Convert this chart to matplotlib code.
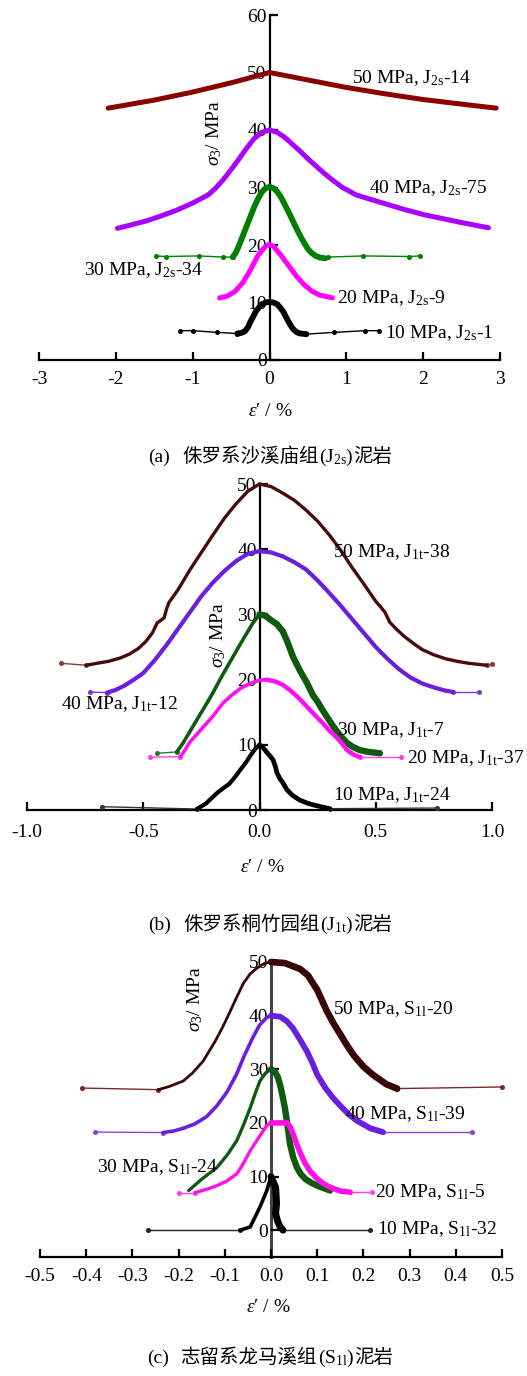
import numpy as np
import matplotlib
matplotlib.use("Agg")
import matplotlib.pyplot as plt
from matplotlib.offsetbox import TextArea, HPacker, AnnotationBbox, DrawingArea

plt.rcParams['font.family'] = ['Liberation Serif']
plt.rcParams['mathtext.fontset'] = 'custom'
plt.rcParams['mathtext.rm'] = 'Liberation Serif'
plt.rcParams['mathtext.it'] = 'Liberation Serif:italic'
plt.rcParams['mathtext.bf'] = 'Liberation Serif:bold'
plt.rcParams['axes.unicode_minus'] = False

# ---------------- Panel (a): J2s ----------------
A50_x = [-2.1, -1.5, -1.0, -0.5, 0.0, 0.5, 1.0, 1.5, 2.0, 2.5, 2.95]
A50_y = [43.8, 45.2, 46.6, 48.2, 50.0, 48.7, 47.4, 46.3, 45.3, 44.5, 43.8]
A40_x = [-1.98, -1.8, -1.6, -1.4, -1.2, -1.0, -0.8, -0.7, -0.6, -0.5, -0.4, -0.3, -0.2, -0.1, 0.0,
         0.1, 0.2, 0.3, 0.4, 0.5, 0.6, 0.7, 0.8, 0.95, 1.13, 1.3, 1.5, 1.75, 2.0, 2.25, 2.5, 2.85]
A40_y = [22.9, 23.5, 24.2, 25.1, 26.1, 27.3, 28.7, 29.9, 31.4, 33.1, 34.9, 36.8, 38.5, 39.6, 40.0,
         39.6, 38.7, 37.5, 36.3, 35.0, 33.8, 32.6, 31.5, 30.0, 28.7, 28.0, 27.2, 26.2, 25.3, 24.6, 23.9, 23.0]
A30_lx = [-1.48, -1.35, -0.92, -0.6, -0.48]
A30_ly = [18.1, 18.0, 18.1, 17.9, 17.9]
A30_x = [-0.48, -0.44, -0.4, -0.35, -0.3, -0.25, -0.2, -0.15, -0.1, -0.05, 0.0, 0.05, 0.1, 0.15,
         0.2, 0.25, 0.3, 0.35, 0.4, 0.45, 0.5, 0.55, 0.6, 0.66, 0.72]
A30_y = [17.9, 18.6, 19.8, 21.5, 23.2, 24.9, 26.6, 28.0, 29.2, 29.9, 30.1, 29.9, 29.3, 28.3,
         27.0, 25.7, 24.3, 22.9, 21.6, 20.4, 19.3, 18.6, 18.1, 17.8, 17.7]
A30_rx = [0.72, 0.76, 1.22, 1.82, 1.96]
A30_ry = [17.7, 17.9, 18.1, 18.0, 18.1]
A20_x = [-0.65, -0.55, -0.45, -0.35, -0.25, -0.15, -0.05, 0.0, 0.05, 0.15, 0.25, 0.35, 0.45, 0.55, 0.65, 0.75, 0.82]
A20_y = [10.8, 11.1, 11.9, 13.4, 15.6, 18.2, 19.8, 20.1, 19.8, 18.2, 16.4, 14.6, 13.1, 12.0, 11.3, 11.0, 10.8]
A10_lx = [-1.16, -1.0, -0.68, -0.42]
A10_ly = [5.1, 5.1, 4.8, 4.6]
A10_x = [-0.42, -0.37, -0.32, -0.28, -0.25, -0.21, -0.18, -0.14, -0.1, -0.05, 0.0,
         0.05, 0.1, 0.14, 0.18, 0.21, 0.25, 0.29, 0.32, 0.36, 0.4, 0.48]
A10_y = [4.6, 4.7, 5.0, 5.7, 6.6, 7.6, 8.4, 9.1, 9.7, 10.0, 10.1,
         10.0, 9.7, 9.1, 8.4, 7.6, 6.6, 5.7, 5.2, 4.8, 4.6, 4.5]
A10_rx = [0.48, 0.84, 1.24, 1.43]
A10_ry = [4.5, 4.8, 5.1, 5.1]
A_labels = ['50 MPa, J$_{\\mathrm{2s}}$-14', '40 MPa, J$_{\\mathrm{2s}}$-75',
            '30 MPa, J$_{\\mathrm{2s}}$-34', '20 MPa, J$_{\\mathrm{2s}}$-9',
            '10 MPa, J$_{\\mathrm{2s}}$-1']
A_xticks = [-3, -2, -1, 0, 1, 2, 3]
A_yticks = [0, 10, 20, 30, 40, 50, 60]

# ---------------- Panel (b): J1t ----------------
B50_lx = [-0.854, -0.746]
B50_ly = [22.5, 22.2]
B50_x = [-0.746, -0.7, -0.65, -0.6, -0.56, -0.52, -0.49, -0.46, -0.44, -0.42, -0.41, -0.4, -0.39,
         -0.35, -0.3, -0.25, -0.2, -0.15, -0.1, -0.05, 0.0,
         0.05, 0.1, 0.15, 0.2, 0.25, 0.3, 0.35, 0.4, 0.45, 0.5, 0.52, 0.54, 0.56, 0.59, 0.62,
         0.66, 0.7, 0.75, 0.8, 0.85, 0.9, 0.977]
B50_y = [22.2, 22.5, 22.8, 23.3, 23.9, 24.8, 25.8, 27.2, 28.7, 29.2, 29.5, 30.8, 31.8,
         33.8, 36.8, 39.5, 42.2, 44.8, 47.0, 48.9, 50.0,
         49.6, 48.6, 47.5, 46.0, 44.3, 42.2, 39.8, 37.1, 34.6, 32.0, 31.2, 30.3, 28.8, 27.7, 26.7,
         25.6, 24.6, 23.8, 23.2, 22.8, 22.5, 22.2]
B50_rx = [0.977, 1.0]
B50_ry = [22.2, 22.4]
B40_lx = [-0.73, -0.656]
B40_ly = [18.1, 18.0]
B40_x = [-0.656, -0.62, -0.58, -0.54, -0.5, -0.45, -0.4, -0.35, -0.3, -0.25, -0.2, -0.15, -0.1, -0.05, 0.0,
         0.05, 0.1, 0.15, 0.2, 0.25, 0.3, 0.35, 0.4, 0.45, 0.5, 0.55, 0.6, 0.65, 0.7, 0.75, 0.8, 0.834]
B40_y = [18.0, 18.4, 19.1, 20.0, 21.0, 23.0, 25.3, 27.8, 30.3, 32.8, 34.9, 36.7, 38.2, 39.3, 39.7,
         39.5, 38.9, 38.0, 36.9, 35.2, 33.3, 31.3, 29.2, 27.1, 25.0, 23.2, 21.6, 20.3, 19.4, 18.8, 18.3, 18.1]
B40_rx = [0.834, 0.944]
B40_ry = [18.1, 18.1]
B30_lx = [-0.44, -0.356]
B30_ly = [8.7, 8.9]
B30_x = [-0.356, -0.33, -0.3, -0.26, -0.226, -0.2, -0.17, -0.14, -0.114, -0.085, -0.06, -0.03, 0.0,
         0.025, 0.05, 0.075, 0.1, 0.12, 0.144, 0.175, 0.204, 0.23, 0.25, 0.27, 0.29, 0.31, 0.33,
         0.355, 0.376, 0.4, 0.43, 0.47, 0.518]
B30_y = [8.9, 10.2, 12.0, 14.4, 16.4, 18.0, 20.0, 21.9, 23.5, 25.3, 26.8, 28.6, 30.0,
         29.8, 29.1, 28.5, 27.4, 25.8, 23.5, 21.3, 19.5, 17.6, 16.6, 15.4, 14.3, 13.2, 12.2,
         11.1, 10.3, 9.7, 9.2, 8.9, 8.7]
B20_lx = [-0.47, -0.34]
B20_ly = [8.1, 8.2]
B20_x = [-0.34, -0.32, -0.3, -0.25, -0.2, -0.157, -0.12, -0.08, -0.04, 0.0, 0.03,
         0.07, 0.1, 0.131, 0.165, 0.2, 0.24, 0.273, 0.3, 0.33, 0.355, 0.376, 0.405, 0.432]
B20_y = [8.2, 9.2, 10.4, 12.4, 14.4, 16.4, 17.6, 18.7, 19.4, 19.9, 20.0,
         19.7, 19.2, 18.4, 17.3, 16.0, 14.5, 13.3, 12.2, 11.2, 10.2, 9.2, 8.5, 8.1]
B20_rx = [0.432, 0.61]
B20_ry = [8.1, 8.1]
B10_lx = [-0.678, -0.27]
B10_ly = [0.5, 0.15]
B10_x = [-0.27, -0.23, -0.183, -0.15, -0.13, -0.1, -0.084, -0.06, -0.04, -0.02, 0.0,
         0.015, 0.03, 0.045, 0.058, 0.068, 0.075, 0.088, 0.1, 0.118, 0.14, 0.174, 0.21, 0.24, 0.303]
B10_y = [0.15, 1.0, 2.6, 3.5, 4.0, 5.3, 6.1, 7.2, 8.3, 9.3, 10.0,
         9.6, 8.9, 8.3, 7.7, 6.7, 5.7, 4.8, 4.2, 3.1, 2.3, 1.5, 1.0, 0.7, 0.2]
B10_rx = [0.303, 0.763]
B10_ry = [0.2, 0.3]
B_labels = ['50 MPa, J$_{\\mathrm{1t}}$-38', '40 MPa, J$_{\\mathrm{1t}}$-12',
            '30 MPa, J$_{\\mathrm{1t}}$-7', '20 MPa, J$_{\\mathrm{1t}}$-37',
            '10 MPa, J$_{\\mathrm{1t}}$-24']
B_xticks = [-1.0, -0.5, 0.0, 0.5, 1.0]
B_yticks = [0, 10, 20, 30, 40, 50]

# ---------------- Panel (c): S1l ----------------
C50_lx = [-0.41, -0.244]
C50_ly = [26.5, 26.2]
C50_x = [-0.244, -0.22, -0.19, -0.17, -0.147, -0.121, -0.105, -0.09, -0.075, -0.06, -0.045, -0.03, -0.015, 0.0,
         0.03, 0.063, 0.08, 0.1, 0.12, 0.135, 0.15, 0.165, 0.18, 0.2, 0.22, 0.25, 0.273]
C50_y = [26.2, 26.8, 27.8, 29.3, 31.5, 35.2, 37.8, 40.5, 43.3, 46.0, 47.8, 48.9, 49.7, 50.0,
         49.8, 48.7, 47.5, 44.8, 41.0, 38.6, 36.5, 34.4, 32.5, 30.5, 29.0, 27.2, 26.4]
C50_rx = [0.273, 0.5]
C50_ry = [26.4, 26.7]
C40_lx = [-0.381, -0.234]
C40_ly = [18.3, 18.2]
C40_x = [-0.234, -0.21, -0.19, -0.165, -0.139, -0.117, -0.095, -0.075, -0.058, -0.04, -0.025, -0.01, 0.0,
         0.02, 0.035, 0.048, 0.063, 0.078, 0.09, 0.1, 0.117, 0.134, 0.15, 0.168, 0.186, 0.215, 0.242]
C40_y = [18.2, 18.5, 19.0, 19.8, 21.2, 23.2, 25.8, 29.0, 32.5, 35.8, 38.2, 39.6, 40.0,
         39.8, 38.9, 37.6, 35.5, 33.3, 31.1, 29.0, 26.6, 24.7, 23.2, 21.6, 20.4, 19.0, 18.3]
C40_rx = [0.242, 0.434]
C40_ry = [18.3, 18.3]
C30_x = [-0.178, -0.15, -0.117, -0.095, -0.074, -0.06, -0.045, -0.035, -0.024, -0.012, 0.0,
         0.008, 0.015, 0.02, 0.025, 0.03, 0.035, 0.041, 0.048, 0.056, 0.065, 0.075, 0.088, 0.1, 0.115, 0.128]
C30_y = [7.4, 9.5, 11.7, 14.0, 16.7, 19.5, 22.8, 25.3, 27.8, 29.3, 30.0,
         29.6, 28.5, 27.0, 25.0, 22.8, 20.0, 16.1, 13.6, 11.7, 10.4, 9.5, 8.8, 8.3, 7.8, 7.4]
C20_lx = [-0.2, -0.165]
C20_ly = [7.0, 7.0]
C20_x = [-0.165, -0.14, -0.117, -0.095, -0.074, -0.06, -0.045, -0.03, -0.017, -0.008, 0.0, 0.035,
         0.042, 0.048, 0.055, 0.063, 0.073, 0.084, 0.1, 0.113, 0.128, 0.15, 0.171]
C20_y = [7.0, 7.6, 8.3, 9.2, 10.5, 12.4, 14.8, 16.8, 18.5, 19.6, 20.0, 20.0,
         19.2, 17.9, 16.2, 14.5, 12.6, 11.1, 9.6, 8.7, 8.0, 7.3, 7.1]
C20_rx = [0.171, 0.218]
C20_ry = [7.1, 7.1]
C10_lx = [-0.266, -0.067]
C10_ly = [0.0, 0.0]
C10_x = [-0.067, -0.045, -0.024, -0.009, 0.0, 0.01, 0.012, 0.01, 0.015, 0.02, 0.026]
C10_y = [0.0, 0.6, 4.3, 7.4, 10.0, 8.0, 5.0, 3.0, 1.5, 0.6, 0.0]
C10_rx = [0.026, 0.214]
C10_ry = [0.0, 0.0]
C_labels = ['50 MPa, S$_{\\mathrm{1l}}$-20', '40 MPa, S$_{\\mathrm{1l}}$-39',
            '30 MPa, S$_{\\mathrm{1l}}$-24', '20 MPa, S$_{\\mathrm{1l}}$-5',
            '10 MPa, S$_{\\mathrm{1l}}$-32']
C_xticks = [-0.5, -0.4, -0.3, -0.2, -0.1, 0.0, 0.1, 0.2, 0.3, 0.4, 0.5]
C_yticks = [0, 10, 20, 30, 40, 50]

# ---------------- styling / layout ----------------
FS = 14
W, H = 527, 1376
fig = plt.figure(figsize=(W / 100, H / 100), dpi=100)


def px_axes(x0, y_bottom, x1, y_top):
    return fig.add_axes([x0 / W, 1 - y_bottom / H, (x1 - x0) / W, (y_bottom - y_top) / H])


def draw_curve(ax, lx, ly, x, y, rx, ry, color, lwl, lwr, tail_color=None):
    tc = tail_color or color
    for tx, ty in ((lx, ly), (rx, ry)):
        if len(tx):
            ax.plot(tx, ty, color=tc, lw=1.0, marker='o', ms=2.6, clip_on=False, zorder=3)
    x = np.asarray(x)
    y = np.asarray(y)
    k = int(np.argmax(y))
    ax.plot(x[:k + 1], y[:k + 1], color=color, lw=lwl, solid_capstyle='round',
            solid_joinstyle='round', clip_on=False, zorder=4)
    ax.plot(x[k:], y[k:], color=color, lw=lwr, solid_capstyle='round',
            solid_joinstyle='round', clip_on=False, zorder=4)


def style_axes(ax, xlim, ylim, xticks, yticks, xfmt, left_color='black', left_lw=1.6, xpad=8):
    ax.set_xlim(*xlim)
    ax.set_ylim(*ylim)
    ax.patch.set_alpha(0)
    for s in ('top', 'right'):
        ax.spines[s].set_visible(False)
    ax.spines['left'].set_position(('data', 0))
    ax.spines['left'].set_color(left_color)
    ax.spines['left'].set_linewidth(left_lw)
    ax.spines['left'].set_zorder(1)
    ax.spines['bottom'].set_linewidth(1.6)
    ax.set_xticks(xticks)
    ax.set_xticklabels([xfmt.format(v) for v in xticks])
    ax.set_yticks(yticks)
    ax.set_yticklabels([str(v) for v in yticks])
    ax.tick_params(axis='x', direction='in', length=6, width=1.6, pad=xpad, labelsize=FS)
    ax.tick_params(axis='y', direction='in', length=6, width=1.6, pad=2, labelsize=FS,
                   color='black')


XLAB = r"$\varepsilon$′ / %"
YLAB = r'$\sigma_3$/ MPa'

# ---- (a)
axA = px_axes(39, 360, 500, 15)
style_axes(axA, (-3, 3), (0, 60), A_xticks, A_yticks, '{:d}')
A_colors = ['#8B0000', '#AA00FF', '#008000', '#FF00FF', '#000000']
draw_curve(axA, [], [], A50_x, A50_y, [], [], A_colors[0], 3.6, 3.6)
draw_curve(axA, [], [], A40_x, A40_y, [], [], A_colors[1], 3.6, 3.6)
draw_curve(axA, A30_lx, A30_ly, A30_x, A30_y, A30_rx, A30_ry, A_colors[2], 4.2, 4.2)
draw_curve(axA, [], [], A20_x, A20_y, [], [], A_colors[3], 3.6, 3.6)
draw_curve(axA, A10_lx, A10_ly, A10_x, A10_y, A10_rx, A10_ry, A_colors[4], 4.2, 4.2)
A_lab_pos = [(1.08, 48.2), (1.30, 29.0), (-2.41, 14.8), (0.885, 9.9), (1.50, 3.8)]
for (lx_, ly_), t in zip(A_lab_pos, A_labels):
    axA.text(lx_, ly_, t, fontsize=FS, ha='left', va='baseline', zorder=6)
axA.text(-0.72, 39.5, YLAB, rotation=90, fontsize=FS, ha='center', va='center')
fig.text(270 / W, 1 - 412 / H, XLAB, fontsize=FS, ha='center', va='center')

# ---- (b)
axB = px_axes(27, 810, 492, 484)
style_axes(axB, (-1, 1), (0, 50), B_xticks, B_yticks, '{:.1f}', xpad=10)
B_colors = ['#4A0A0A', '#6A1FE0', '#0F5A0F', '#FF10F0', '#000000']
B_tails = ['#8A3A3A', '#7A3AD0', '#2A7A2A', '#FF40F0', '#333333']
draw_curve(axB, B50_lx, B50_ly, B50_x, B50_y, B50_rx, B50_ry, B_colors[0], 2.4, 2.4, B_tails[0])
draw_curve(axB, B40_lx, B40_ly, B40_x, B40_y, B40_rx, B40_ry, B_colors[1], 3.0, 3.0, B_tails[1])
draw_curve(axB, B30_lx, B30_ly, B30_x, B30_y, [], [], B_colors[2], 2.6, 4.6, B_tails[2])
draw_curve(axB, B20_lx, B20_ly, B20_x, B20_y, B20_rx, B20_ry, B_colors[3], 2.6, 3.2, B_tails[3])
draw_curve(axB, B10_lx, B10_ly, B10_x, B10_y, B10_rx, B10_ry, B_colors[4], 3.0, 3.4, B_tails[4])
B_lab_pos = [(0.316, 38.8), (-0.854, 15.5), (0.333, 11.5), (0.634, 7.2), (0.316, 1.5)]
for (lx_, ly_), t in zip(B_lab_pos, B_labels):
    axB.text(lx_, ly_, t, fontsize=FS, ha='left', va='baseline', zorder=6)
axB.text(-0.18, 26.8, YLAB, rotation=90, fontsize=FS, ha='center', va='center')
fig.text(262 / W, 1 - 867 / H, XLAB, fontsize=FS, ha='center', va='center')

# ---- (c)
axC = px_axes(40, 1257, 502, 962)
style_axes(axC, (-0.5, 0.5), (-5, 50), C_xticks, C_yticks, '{:.1f}',
           left_color='#444444', left_lw=2.2)
C_colors = ['#3A0505', '#6A1FE0', '#0F5A0F', '#FF10E8', '#000000']
C_tails = ['#7A2A2A', '#8A40E0', '#2A7A2A', '#FF40F0', '#222222']
draw_curve(axC, C50_lx, C50_ly, C50_x, C50_y, C50_rx, C50_ry, C_colors[0], 2.0, 4.8, C_tails[0])
draw_curve(axC, C40_lx, C40_ly, C40_x, C40_y, C40_rx, C40_ry, C_colors[1], 2.6, 4.2, C_tails[1])
draw_curve(axC, [], [], C30_x, C30_y, [], [], C_colors[2], 2.4, 4.6, C_tails[2])
draw_curve(axC, C20_lx, C20_ly, C20_x, C20_y, C20_rx, C20_ry, C_colors[3], 2.4, 4.0, C_tails[3])
draw_curve(axC, C10_lx, C10_ly, C10_x, C10_y, C10_rx, C10_ry, C_colors[4], 2.6, 5.0, C_tails[4])
C_lab_pos = [(0.134, 40.2), (0.16, 20.7), (-0.377, 10.9), (0.225, 6.1), (0.229, -0.7)]
for (lx_, ly_), t in zip(C_lab_pos, C_labels):
    axC.text(lx_, ly_, t, fontsize=FS, ha='left', va='baseline', zorder=6)
axC.text(-0.165, 43.1, YLAB, rotation=90, fontsize=FS, ha='center', va='center')
fig.text(268 / W, 1 - 1307 / H, XLAB, fontsize=FS, ha='center', va='center')

# ---- captions
SER = dict(family='Liberation Serif', size=FS)
CJK = dict(family='Noto Sans CJK SC', size=14)


def caption(tag, cn1, code, cn2, yc, xc=270):
    kids = [TextArea(tag, textprops=SER), DrawingArea(9, 1),
            TextArea(cn1, textprops=CJK), TextArea(code, textprops=SER),
            TextArea(cn2, textprops=CJK)]
    box = HPacker(children=kids, align='baseline', pad=0, sep=0)
    ab = AnnotationBbox(box, (xc / W, 1 - yc / H), xycoords='figure fraction',
                        frameon=False, box_alignment=(0.5, 0.5), pad=0)
    fig.add_artist(ab)


caption('(a)', '侏罗系沙溪庙组', '(J$_{\\mathrm{2s}}$)', '泥岩', 457)
caption('(b)', '侏罗系桐竹园组', '(J$_{\\mathrm{1t}}$)', '泥岩', 925)
caption('(c)', '志留系龙马溪组', '(S$_{\\mathrm{1l}}$)', '泥岩', 1358)

fig.savefig('out.png', dpi=100)
